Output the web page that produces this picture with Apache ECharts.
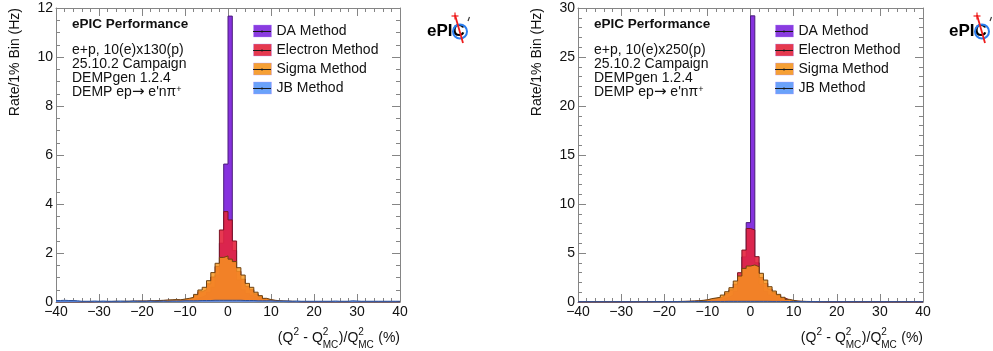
<!DOCTYPE html>
<html>
<head>
<meta charset="utf-8">
<script src="https://cdn.jsdelivr.net/npm/echarts@6/dist/echarts.min.js"></script>
<style>
  html, body { margin: 0; padding: 0; background: #ffffff; }
  #chart { width: 993px; height: 351px; }
</style>
</head>
<body>
<div id="chart"></div>
<script>
// Histogram binning: 1% bins from -40% to +40%
const xMin = -40;
const xMax = 40;
const binWidth = 1;

const methodNames = ['DA Method', 'Electron Method', 'Sigma Method', 'JB Method'];

// ---- 10(e)x130(p): rate per 1% bin (Hz), bins -40 ... 39 ----
const da130 = [
  0.01,0.01,0.01,0.01,0.01,0.01,0.01,0.01,0.01,0.01,
  0.01,0.01,0.01,0.01,0.01,0.01,0.02,0.02,0.02,0.02,
  0.02,0.02,0.03,0.03,0.03,0.04,0.04,0.05,0.05,0.06,
  0.07,0.09,0.14,0.20,0.28,0.40,0.60,1.10,2.40,5.63,
  11.67,2.10,0.90,0.50,0.35,0.26,0.18,0.12,0.07,0.05,
  0.03,0.02,0.02,0.01,0.01,0.01,0.01,0.01,0.01,0.01,
  0.01,0.01,0.01,0.01,0.01,0.01,0.01,0.01,0.01,0.01,
  0.01,0.01,0.01,0.01,0.01,0.01,0.01,0.01,0.01,0.01
];
const electron130 = [
  0.01,0.01,0.01,0.01,0.01,0.01,0.01,0.01,0.01,0.02,
  0.02,0.01,0.02,0.02,0.02,0.02,0.02,0.03,0.03,0.03,
  0.03,0.04,0.04,0.05,0.06,0.07,0.07,0.08,0.08,0.10,
  0.12,0.16,0.26,0.42,0.50,0.74,1.02,1.45,2.94,3.69,
  3.35,2.49,1.25,0.93,0.64,0.50,0.33,0.22,0.13,0.08,
  0.06,0.04,0.03,0.03,0.02,0.02,0.01,0.01,0.01,0.01,
  0.01,0.01,0.01,0.01,0.01,0.01,0.01,0.01,0.01,0.01,
  0.01,0.01,0.01,0.01,0.01,0.01,0.01,0.01,0.01,0.01
];
const sigma130 = [
  0.01,0.01,0.01,0.01,0.01,0.01,0.02,0.01,0.02,0.02,
  0.02,0.02,0.02,0.03,0.02,0.03,0.03,0.03,0.04,0.04,
  0.04,0.05,0.05,0.06,0.07,0.08,0.09,0.10,0.09,0.12,
  0.15,0.19,0.31,0.49,0.60,0.87,1.20,1.58,1.82,1.88,
  1.75,1.65,1.40,1.10,0.76,0.60,0.40,0.26,0.15,0.10,
  0.07,0.05,0.04,0.03,0.03,0.02,0.02,0.01,0.01,0.01,
  0.01,0.01,0.01,0.01,0.01,0.01,0.01,0.01,0.01,0.01,
  0.01,0.01,0.01,0.01,0.01,0.01,0.01,0.01,0.01,0.01
];
const jb130 = [
  0.06,0.07,0.06,0.06,0.05,0.03,0.03,0.03,0.04,0.03,
  0.04,0.03,0.03,0.03,0.04,0.03,0.03,0.04,0.03,0.03,
  0.03,0.04,0.03,0.03,0.04,0.03,0.04,0.04,0.04,0.05,
  0.05,0.05,0.05,0.06,0.06,0.06,0.07,0.07,0.07,0.07,
  0.07,0.07,0.07,0.06,0.06,0.06,0.05,0.05,0.05,0.05,
  0.04,0.04,0.04,0.04,0.03,0.04,0.03,0.03,0.03,0.03,
  0.03,0.03,0.03,0.03,0.04,0.03,0.03,0.03,0.05,0.04,
  0.03,0.03,0.03,0.03,0.03,0.03,0.03,0.03,0.03,0.03
];

// ---- 10(e)x250(p): rate per 1% bin (Hz), bins -40 ... 39 ----
const da250 = [
  0.01,0.01,0.01,0.01,0.01,0.01,0.01,0.01,0.01,0.01,
  0.01,0.01,0.02,0.02,0.02,0.02,0.02,0.02,0.02,0.03,
  0.03,0.03,0.03,0.04,0.04,0.05,0.06,0.07,0.09,0.11,
  0.15,0.20,0.24,0.35,0.50,0.70,1.10,2.50,4.60,8.10,
  29.20,4.00,1.80,1.10,0.70,0.50,0.35,0.22,0.12,0.08,
  0.05,0.04,0.03,0.02,0.02,0.01,0.01,0.01,0.01,0.01,
  0.01,0.01,0.01,0.01,0.01,0.01,0.01,0.01,0.01,0.01,
  0.01,0.01,0.01,0.01,0.01,0.01,0.01,0.01,0.01,0.01
];
const electron250 = [
  0.01,0.01,0.01,0.01,0.01,0.02,0.02,0.02,0.02,0.02,
  0.02,0.02,0.03,0.03,0.03,0.03,0.03,0.04,0.04,0.04,
  0.03,0.04,0.04,0.05,0.06,0.07,0.08,0.11,0.14,0.19,
  0.29,0.35,0.41,0.60,0.89,1.24,1.82,2.99,5.30,7.50,
  7.35,4.63,2.50,1.90,1.33,0.95,0.66,0.41,0.23,0.14,
  0.08,0.06,0.05,0.04,0.03,0.02,0.02,0.01,0.01,0.01,
  0.01,0.01,0.01,0.01,0.01,0.01,0.01,0.01,0.01,0.01,
  0.01,0.01,0.01,0.01,0.01,0.01,0.01,0.01,0.01,0.01
];
const sigma250 = [
  0.02,0.02,0.02,0.02,0.02,0.02,0.02,0.02,0.02,0.03,
  0.03,0.03,0.03,0.03,0.04,0.04,0.04,0.05,0.05,0.05,
  0.04,0.05,0.05,0.06,0.07,0.08,0.10,0.13,0.17,0.22,
  0.34,0.41,0.48,0.71,1.05,1.46,2.14,2.65,3.43,3.67,
  3.78,3.60,2.93,2.24,1.56,1.12,0.78,0.48,0.27,0.17,
  0.10,0.07,0.06,0.05,0.04,0.03,0.02,0.01,0.01,0.01,
  0.01,0.01,0.01,0.01,0.01,0.01,0.01,0.01,0.01,0.01,
  0.01,0.01,0.01,0.01,0.01,0.01,0.01,0.01,0.01,0.01
];
const jb250 = [
  0.03,0.03,0.03,0.02,0.03,0.03,0.02,0.03,0.03,0.03,
  0.03,0.03,0.03,0.03,0.03,0.03,0.03,0.04,0.03,0.03,
  0.04,0.04,0.04,0.04,0.04,0.05,0.05,0.05,0.05,0.05,
  0.06,0.06,0.06,0.06,0.07,0.07,0.07,0.07,0.07,0.07,
  0.07,0.07,0.07,0.07,0.06,0.06,0.06,0.05,0.05,0.05,
  0.05,0.04,0.04,0.04,0.04,0.04,0.03,0.03,0.03,0.03,
  0.03,0.03,0.03,0.03,0.03,0.03,0.03,0.03,0.03,0.03,
  0.03,0.03,0.03,0.03,0.03,0.03,0.03,0.03,0.03,0.03
];

// rich-text run information (arrow drawn slightly larger, pi+ charge as superscript)
const info130 = ['e+p, 10(e)x130(p)', '25.10.2 Campaign', 'DEMPgen 1.2.4', 'DEMP ep{arr|\u2192} e\'n\u03c0{sup|+}'];
const info250 = ['e+p, 10(e)x250(p)', '25.10.2 Campaign', 'DEMPgen 1.2.4', 'DEMP ep{arr|\u2192} e\'n\u03c0{sup|+}'];
const perfLabel = 'ePIC Performance';
const yTitle = 'Rate/1% Bin (Hz)';

// ---- styling ----
const FONT = '"Liberation Sans", Arial, Helvetica, sans-serif';
const frameColor = '#858585';
const textColor = '#111111';
const methodStyles = [
  { fill: 'rgb(134,50,222)', opacity: 1.0,  line: '#4a1d7a', legend: '#8a3ce0' },
  { fill: 'rgb(228,35,62)',  opacity: 0.9,  line: '#7d1524', legend: '#e5394f' },
  { fill: 'rgb(247,150,30)', opacity: 0.82, line: '#6e4211', legend: '#f6a035' },
  { fill: 'rgb(80,145,250)', opacity: 0.85, line: '#2b4f9a', legend: '#6aa2fa' }
];

const panels = [
  { left: 56,  width: 344, yMax: 12, yInterval: 2, yMinor: 4,
    series: [da130, electron130, sigma130, jb130], info: info130 },
  { left: 578, width: 345, yMax: 30, yInterval: 5, yMinor: 5,
    series: [da250, electron250, sigma250, jb250], info: info250 }
];
const gridTop = 8;
const gridHeight = 294;
const tickFont = 14;

// bin contents -> step points at lower bin edges, closed at the upper edge
function stepPoints(values) {
  const pts = values.map((v, i) => [xMin + i * binWidth, v]);
  pts.push([xMax, values[values.length - 1]]);
  return pts;
}

function minusFmt(v) {
  return v < 0 ? '\u2212' + Math.abs(v) : String(v);
}

function frameAxis(extra) {
  return Object.assign({
    type: 'value',
    axisLine: { show: true, onZero: false, lineStyle: { color: frameColor, width: 1 } },
    axisTick: { show: true, inside: true, length: 8, lineStyle: { color: frameColor, width: 1 } },
    splitLine: { show: false },
    minorSplitLine: { show: false }
  }, extra);
}

const grid = [], xAxis = [], yAxis = [], series = [], legend = [], graphic = [];

// text measurement for composed axis titles
const measureCtx = document.createElement('canvas').getContext('2d');
function textWidth(str, size) {
  measureCtx.font = size + 'px ' + FONT;
  return measureCtx.measureText(str).width;
}

panels.forEach((p, pi) => {
  grid.push({ left: p.left, top: gridTop, width: p.width, height: gridHeight, containLabel: false });

  const xMinor = { show: true, splitNumber: 5, length: 4, lineStyle: { color: frameColor } };
  const yMinor = { show: true, splitNumber: p.yMinor, length: 4, lineStyle: { color: frameColor } };
  const xLab = { show: true, fontSize: tickFont, fontFamily: FONT, color: textColor, margin: 3, formatter: minusFmt,
                 showMinLabel: true, showMaxLabel: true };
  xAxis.push(frameAxis({ gridIndex: pi, position: 'bottom', min: xMin, max: xMax, interval: 10,
                         minorTick: xMinor, axisLabel: xLab }));
  xAxis.push(frameAxis({ gridIndex: pi, position: 'top', min: xMin, max: xMax, interval: 10,
                         minorTick: xMinor, axisLabel: { show: false } }));
  const yLab = { show: true, fontSize: tickFont, fontFamily: FONT, color: textColor, margin: 3 };
  yAxis.push(frameAxis({ gridIndex: pi, position: 'left', min: 0, max: p.yMax, interval: p.yInterval,
                         minorTick: yMinor, axisLabel: yLab }));
  yAxis.push(frameAxis({ gridIndex: pi, position: 'right', min: 0, max: p.yMax, interval: p.yInterval,
                         minorTick: yMinor, axisLabel: { show: false } }));

  // overlaid filled step histograms: DA at the back, JB in front
  p.series.forEach((vals, mi) => {
    const st = methodStyles[mi];
    series.push({
      type: 'line',
      name: methodNames[mi],
      xAxisIndex: pi * 2,
      yAxisIndex: pi * 2,
      step: 'end',
      symbol: 'none',
      silent: true,
      z: 2 + mi,
      data: stepPoints(vals),
      itemStyle: { color: st.legend },
      lineStyle: { color: st.line, width: 1 },
      areaStyle: { color: st.fill, opacity: st.opacity, origin: 'start' }
    });
  });

  // legend
  const legLeft = p.left + 197;
  const legTop = 21.5;
  const rowH = 19;
  legend.push({
    orient: 'vertical',
    left: legLeft,
    top: legTop,
    padding: 0,
    itemWidth: 18,
    itemHeight: 12,
    itemGap: 0,
    icon: 'rect',
    selectedMode: false,
    textStyle: { fontSize: 14, fontFamily: FONT, color: textColor, lineHeight: rowH, padding: [0, 0, 0, 0] },
    data: methodNames.map((n, mi) => ({
      name: n,
      itemStyle: { color: methodStyles[mi].legend, borderColor: 'rgba(180,150,255,0.35)', borderWidth: 1 }
    }))
  });
  methodNames.forEach((n, mi) => {
    const cy = legTop + rowH / 2 + rowH * mi + 0.5;
    graphic.push({ type: 'line', silent: true, z: 100,
      shape: { x1: legLeft, y1: cy, x2: legLeft + 18, y2: cy },
      style: { stroke: '#1a1a1a', lineWidth: 1 } });
    graphic.push({ type: 'circle', silent: true, z: 101,
      shape: { cx: legLeft + 9, cy: cy, r: 1.1 },
      style: { fill: '#1a1a1a' } });
  });

  // performance label and run information
  const infoX = p.left + 16;
  graphic.push({ type: 'text', x: infoX, y: 24, silent: true,
    style: { text: perfLabel, font: 'bold 13.5px ' + FONT, fill: textColor, verticalAlign: 'middle' } });
  p.info.forEach((line, li) => {
    graphic.push({ type: 'text', x: infoX, y: 50 + li * 14.2, silent: true,
      style: { text: line, font: '14px ' + FONT, fill: textColor, verticalAlign: 'middle',
        rich: {
          arr: { fontSize: 15, fontFamily: '"DejaVu Sans", sans-serif', fill: textColor, verticalAlign: 'middle' },
          sup: { fontSize: 9, fontFamily: FONT, fill: textColor, verticalAlign: 'top', padding: [0, 0, 5, 0] }
        } } });
  });

  // ePIC logo
  const lx = p.left + 371;
  graphic.push({ type: 'group', silent: true, children: [
    { type: 'text', x: lx, y: 31, style: { text: 'ePIC', font: 'bold 17px ' + FONT, fill: '#000', verticalAlign: 'middle' } },
    { type: 'circle', shape: { cx: lx + 33, cy: 31.5, r: 7 }, style: { fill: 'none', stroke: '#2a7ef0', lineWidth: 2 } },
    { type: 'line', shape: { x1: lx + 28, y1: 15, x2: lx + 36, y2: 43 }, style: { stroke: '#ee1c1c', lineWidth: 1.8 } },
    { type: 'line', shape: { x1: lx + 24.5, y1: 16, x2: lx + 31.5, y2: 16 }, style: { stroke: '#ee1c1c', lineWidth: 1.2 } },
    { type: 'line', shape: { x1: lx + 28, y1: 12.5, x2: lx + 28, y2: 19.5 }, style: { stroke: '#ee1c1c', lineWidth: 1.2 } },
    { type: 'line', shape: { x1: lx + 41, y1: 21, x2: lx + 42.5, y2: 17 }, style: { stroke: '#333', lineWidth: 1.2 } }
  ] });

  // y-axis title, rotated, aligned to the top of the frame
  graphic.push({ type: 'text', x: p.left - 41, y: gridTop, rotation: Math.PI / 2, silent: true,
    style: { text: yTitle, font: '14px ' + FONT, fill: textColor, align: 'right', verticalAlign: 'middle' } });

  // x-axis title (Q^2 - Q^2_MC)/Q^2_MC (%), right-aligned at the frame edge
  const parts = [
    { t: '(Q' }, { sup: '2', sub: '' }, { t: ' - Q' }, { sup: '2', sub: 'MC' },
    { t: ')/Q' }, { sup: '2', sub: 'MC' }, { t: ' (%)' }
  ];
  const mainSize = 14, smallSize = 10;
  const widths = parts.map(pt => pt.t !== undefined ? textWidth(pt.t, mainSize)
    : Math.max(textWidth(pt.sup, smallSize), textWidth(pt.sub, smallSize)) + 0.5);
  const total = widths.reduce((a, b) => a + b, 0);
  let cx = p.left + p.width - total;
  const baseY = 338;
  parts.forEach((pt, k) => {
    if (pt.t !== undefined) {
      graphic.push({ type: 'text', x: cx, y: baseY, silent: true,
        style: { text: pt.t, font: mainSize + 'px ' + FONT, fill: textColor, verticalAlign: 'middle' } });
    } else {
      graphic.push({ type: 'text', x: cx, y: baseY - 6, silent: true,
        style: { text: pt.sup, font: smallSize + 'px ' + FONT, fill: textColor, verticalAlign: 'middle' } });
      if (pt.sub) {
        graphic.push({ type: 'text', x: cx, y: baseY + 7, silent: true,
          style: { text: pt.sub, font: smallSize + 'px ' + FONT, fill: textColor, verticalAlign: 'middle' } });
      }
    }
    cx += widths[k];
  });
});

const chart = echarts.init(document.getElementById('chart'), null, { renderer: 'canvas' });
chart.setOption({
  backgroundColor: '#ffffff',
  animation: false,
  grid: grid,
  xAxis: xAxis,
  yAxis: yAxis,
  legend: legend,
  series: series,
  graphic: graphic
});
</script>
</body>
</html>
